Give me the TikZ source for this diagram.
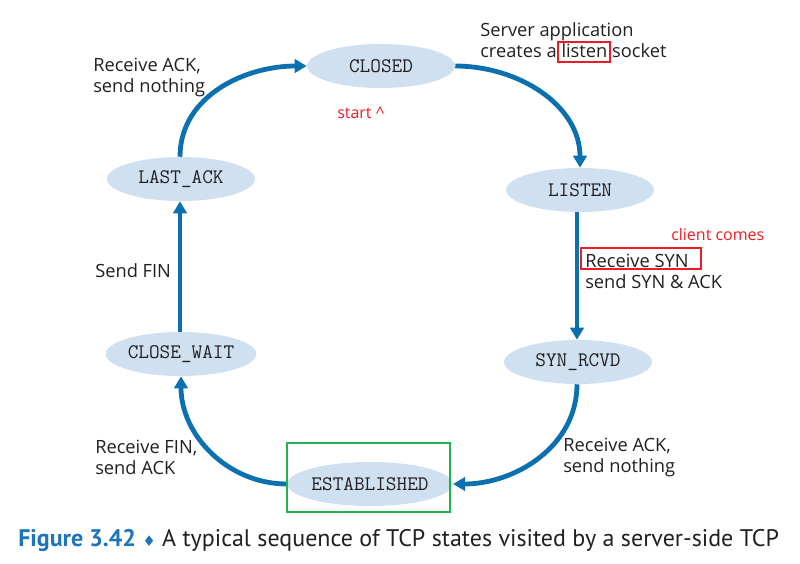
\documentclass[tikz,border=0pt]{standalone}
\usepackage{fontspec}
\setmainfont{Open Sans}
\newfontfamily\capfont{PT Sans}
\newfontfamily\symfont{DejaVu Sans}
\usetikzlibrary{shapes.geometric, arrows.meta}

\definecolor{flowblue}{RGB}{11,112,175}
\definecolor{statefill}{RGB}{207,225,241}
\definecolor{notetext}{RGB}{35,31,32}
\definecolor{markred}{RGB}{237,28,36}
\definecolor{markgreen}{RGB}{34,177,76}
\definecolor{capblue}{RGB}{28,117,188}

\begin{document}
\begin{tikzpicture}[x=0.75pt, y=-0.75pt,
  state/.style={ellipse, fill=statefill, minimum width=111pt, minimum height=33pt, inner sep=0pt, text=notetext, font=\ttfamily\fontsize{15.5}{16}\selectfont},
  flow/.style={draw=flowblue, line width=3.6pt, -{Triangle[length=9pt,width=10pt]}},
  note/.style={align=left, anchor=west, inner sep=0pt, text=notetext, font=\fontsize{13.7}{15.75}\selectfont},
  remark/.style={anchor=west, inner sep=0pt, text=markred, font=\fontsize{12}{14}\selectfont},
  markbox/.style={draw=markred, line width=1.9pt}]
\useasboundingbox (0,0) rectangle (800,564);

% states
\node[state] (closed) at (381,66) {CLOSED};
\node[state] (listen) at (580,190) {LISTEN};
\node[state] (synrcvd) at (578,362) {SYN\_RCVD};
\node[state] (estab) at (370,484) {ESTABLISHED};
\node[state] (closewait) at (181,354) {CLOSE\_WAIT};
\node[state] (lastack) at (181,179) {LAST\_ACK};

% transitions
\draw[flow] (closed.east) to[out=0, in=90] (listen.north);
\draw[flow] (listen.south -| 577,0) -- (synrcvd.north -| 577,0);
\draw[flow] (synrcvd.south -| 577,0) to[out=-90, in=0] (estab.east);
\draw[flow] (estab.west) to[out=180, in=-90] (closewait.south);
\draw[flow] (closewait.north -| 180,0) -- (lastack.south -| 180,0);
\draw[flow] (lastack.north -| 180,0) to[out=90, in=180] (closed.west);

% labels
\node[note] (lbl1) at (93,77) {Receive ACK,\\send nothing};
\node[note] (lbl2) at (480,40) {Server application\\creates a listen socket};
\node[note] (lbl3) at (585,271) {Receive SYN\\send SYN \& ACK};
\node[note] (lbl4) at (563,457) {Receive ACK,\\send nothing};
\node[note] (lbl5) at (95,457) {Receive FIN,\\send ACK};
\node[note] (lbl6) at (95,271) {Send FIN};

% remarks
\node[remark] (start) at (337,113) {start \^{}};
\node[remark] (client) at (671,234) {client comes};
\draw[markbox] (558,42) rectangle (610,62);
\draw[markbox] (581,248) rectangle (701,269);
\draw[draw=markgreen, line width=1.9pt] (287,443) rectangle (450,512);

% caption
\node[anchor=west, inner sep=0pt, font=\capfont\fontsize{18}{20}\selectfont, text=notetext] (caption) at (18,540)
  {{\bfseries\color{capblue}Figure 3.42} {\symfont\fontsize{11}{12}\selectfont\color{capblue}♦} A typical sequence of TCP states visited by a server-side TCP};
\end{tikzpicture}
\end{document}
